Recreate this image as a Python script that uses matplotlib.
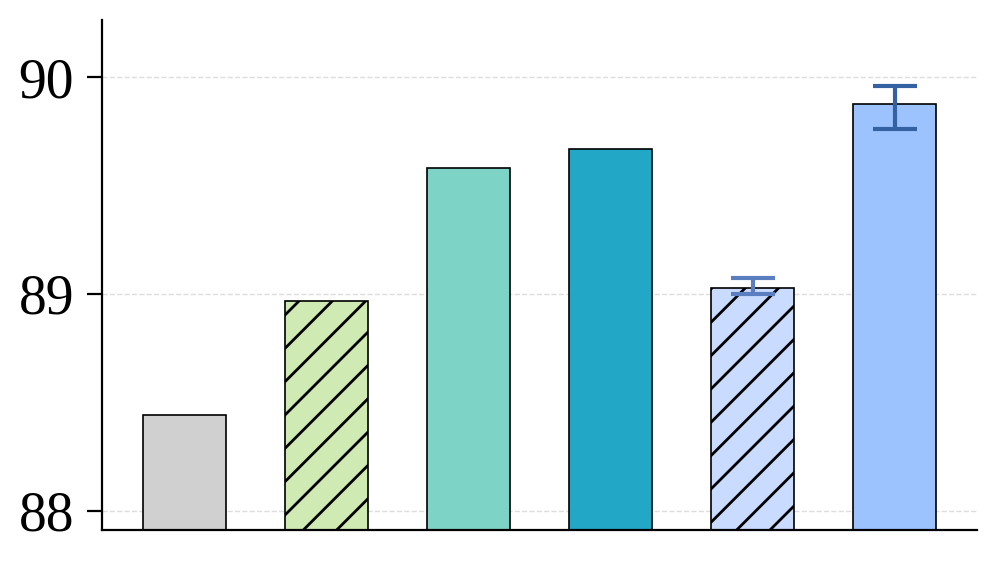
import matplotlib
matplotlib.use("Agg")
import matplotlib.pyplot as plt

# values
methods = ["A", "B", "C", "D", "E", "F"]
scores = [88.44, 88.97, 89.58, 89.67, 89.028, 89.876]
err_low = [None, None, None, None, 0.026, 0.116]
err_high = [None, None, None, None, 0.046, 0.083]
colors = ["#d0d0d0", "#d0eab4", "#7dd3c5", "#22a8c6", "#c9dbff", "#9dc3ff"]
hatches = ["", "//", "", "", "//", ""]
err_colors = [None, None, None, None, "#5b7ec1", "#3461a1"]

plt.rcParams["font.family"] = ["Liberation Serif", "DejaVu Serif"]
plt.rcParams["hatch.linewidth"] = 1.0

fig = plt.figure(figsize=(4.985, 2.81), dpi=200)
ax = fig.add_axes([0.1023, 0.0569, 0.8777, 0.9075])

x = list(range(len(methods)))
for i in x:
    ax.bar(i, scores[i], width=0.585, color=colors[i], edgecolor="black",
           linewidth=0.6, hatch=hatches[i], zorder=2)
    if err_low[i] is not None:
        ax.errorbar(i, scores[i], yerr=[[err_low[i]], [err_high[i]]], fmt="none",
                    ecolor=err_colors[i], elinewidth=1.5, capsize=7.8,
                    capthick=1.5, zorder=3)

ax.set_xlim(-0.578, 5.578)
ax.set_ylim(87.912, 90.263)
ax.set_yticks([88, 89, 90])
ax.set_xticks([])
ax.grid(axis="y", linestyle="--", color="#dddddd", linewidth=0.5, zorder=0)
ax.set_axisbelow(True)

for side in ("top", "right"):
    ax.spines[side].set_visible(False)
for side in ("left", "bottom"):
    ax.spines[side].set_linewidth(0.8)
ax.tick_params(axis="y", labelsize=20, length=5.5, width=0.8, pad=4.5)

fig.savefig("out.png", dpi=200)
